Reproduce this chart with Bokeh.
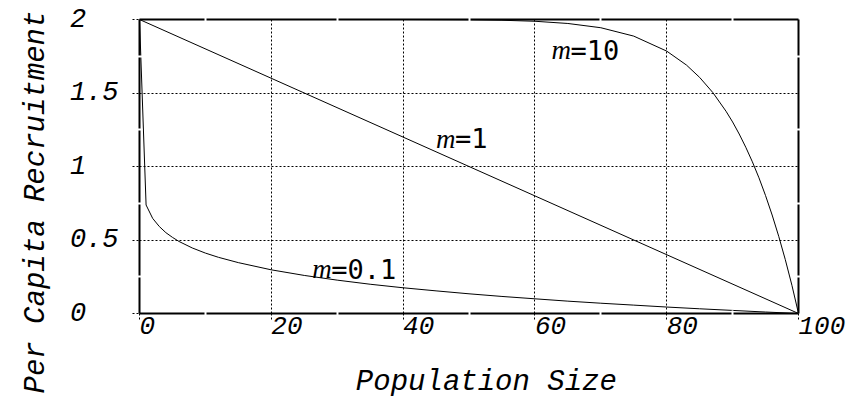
from bokeh.plotting import figure
from bokeh.models import LinearAxis, FixedTicker, ColumnDataSource, Range1d, Title
from bokeh.core.properties import value
from bokeh.embed import file_html
from bokeh.resources import INLINE

# ---- data ----
pop_m1 = [0, 100]
rec_m1 = [2.0, 0.0]

pop_m10 = [0, 10, 20, 30, 40, 50, 55, 60, 65, 70, 75, 80, 83, 85, 87, 89, 90,
           91, 92, 93, 94, 95, 96, 97, 98, 99, 100]
rec_m10 = [2.0, 2.0, 2.0, 2.0, 2.0, 1.998, 1.995, 1.988, 1.973, 1.944, 1.887,
           1.785, 1.690, 1.606, 1.503, 1.376, 1.303, 1.221, 1.131, 1.032, 0.923,
           0.802, 0.670, 0.525, 0.366, 0.192, 0.0]

pop_m01 = [0, 1, 2, 3, 4, 5, 6, 8, 10, 12, 15, 20, 25, 30, 35, 40, 45, 50, 55,
           60, 65, 70, 75, 80, 85, 90, 95, 100]
rec_m01 = [2.0, 0.738, 0.647, 0.592, 0.550, 0.518, 0.490, 0.446, 0.411, 0.382,
           0.346, 0.297, 0.259, 0.227, 0.199, 0.175, 0.154, 0.134, 0.116, 0.100,
           0.084, 0.070, 0.057, 0.044, 0.032, 0.021, 0.010, 0.0]

x_ticks = [0, 20, 40, 60, 80, 100]
x_tick_labels = ["0", "20", "40", "60", "80", "100"]
y_ticks = [0, 0.5, 1, 1.5, 2]
y_tick_labels = ["0", "0.5", "1", "1.5", "2"]

curve_m = ["10", "1", "0.1"]
curve_label_x = [62.5, 45.0, 26.2]
curve_label_y = [1.79, 1.19, 0.30]

x_title = "Population Size"
y_title = "Per Capita Recruitment"

# ---- figure ----
NB = "\u00a0"
TICK_FONT = "Liberation Mono"

p = figure(width=848, height=401, x_range=Range1d(0, 100), y_range=Range1d(0, 2),
           output_backend="svg", toolbar_location=None,
           min_border_left=139, min_border_right=50, min_border_top=19,
           min_border_bottom=87)
p.outline_line_color = None
p.background_fill_color = "white"
p.border_fill_color = "white"

x_minor = [(a + b) / 2 for a, b in zip(x_ticks[:-1], x_ticks[1:])]
y_minor = [(a + b) / 2 for a, b in zip(y_ticks[:-1], y_ticks[1:])]
xt = FixedTicker(ticks=x_ticks, minor_ticks=x_minor)
yt = FixedTicker(ticks=y_ticks, minor_ticks=y_minor)


def style_axis(ax):
    ax.axis_line_color = "black"
    ax.axis_line_width = 2
    ax.major_tick_line_color = "black"
    ax.major_tick_line_dash = "2 2"
    ax.major_tick_line_width = 1
    ax.major_tick_in = 0
    ax.minor_tick_line_color = "white"
    ax.minor_tick_line_width = 2
    ax.minor_tick_in = 3
    ax.minor_tick_out = 3


xa = p.xaxis[0]
xa.ticker = xt
style_axis(xa)
xa.major_tick_out = 6
xa.major_label_overrides = {t: NB * len(s) + s for t, s in zip(x_ticks, x_tick_labels)}
xa.major_label_text_font = TICK_FONT
xa.major_label_text_font_style = "italic"
xa.major_label_text_font_size = "26px"
xa.major_label_text_color = "black"
xa.major_label_standoff = -8
xa.axis_label = NB * 2 + x_title
xa.axis_label_text_font = TICK_FONT
xa.axis_label_text_font_style = "italic"
xa.axis_label_text_font_size = "29px"
xa.axis_label_text_color = "black"
xa.axis_label_standoff = 21

ya = p.yaxis[0]
ya.ticker = yt
style_axis(ya)
ya.major_tick_out = 7
maxlen = max(len(s) for s in y_tick_labels)
ya.major_label_overrides = {t: s + NB * (maxlen - len(s)) for t, s in zip(y_ticks, y_tick_labels)}
ya.major_label_text_font = TICK_FONT
ya.major_label_text_font_style = "italic"
ya.major_label_text_font_size = "27px"
ya.major_label_text_color = "black"
ya.major_label_standoff = 14

# y title as a side title (outer left panel), shifted down along the side
p.add_layout(Title(text=y_title, align="left", vertical_align="top",
                   offset=-80, standoff=24,
                   text_font=TICK_FONT, text_font_style="italic",
                   text_font_size="29px", text_color="black"), "left")

for side, ticker in (("above", xt), ("right", yt)):
    ax = LinearAxis(ticker=ticker)
    style_axis(ax)
    ax.major_tick_out = 0
    ax.major_label_text_font_size = "1px"
    ax.major_label_text_color = None
    ax.major_label_standoff = 0
    p.add_layout(ax, side)

p.xgrid.ticker = xt
p.ygrid.ticker = yt
for g in (p.xgrid[0], p.ygrid[0]):
    g.grid_line_color = "black"
    g.grid_line_dash = "2 2"
    g.grid_line_width = 1

for xs, ys in ((pop_m1, rec_m1), (pop_m10, rec_m10), (pop_m01, rec_m01)):
    p.line(xs, ys, line_color="black", line_width=1)

src = ColumnDataSource(dict(x=curve_label_x, y=curve_label_y,
                            m=["m"] * len(curve_m),
                            rest=["=" + s for s in curve_m]))
p.text(x="x", y="y", text="m", source=src, text_font=value("Liberation Serif"),
       text_font_style="italic", text_font_size="27px", text_baseline="alphabetic",
       text_align="left", text_color="black")
p.text(x="x", y="y", text="rest", source=src, x_offset=19,
       text_font=value("DejaVu Sans Mono"), text_font_size="27px",
       text_baseline="alphabetic", text_align="left", text_color="black")

open("out.html", "w").write(file_html(p, INLINE))
